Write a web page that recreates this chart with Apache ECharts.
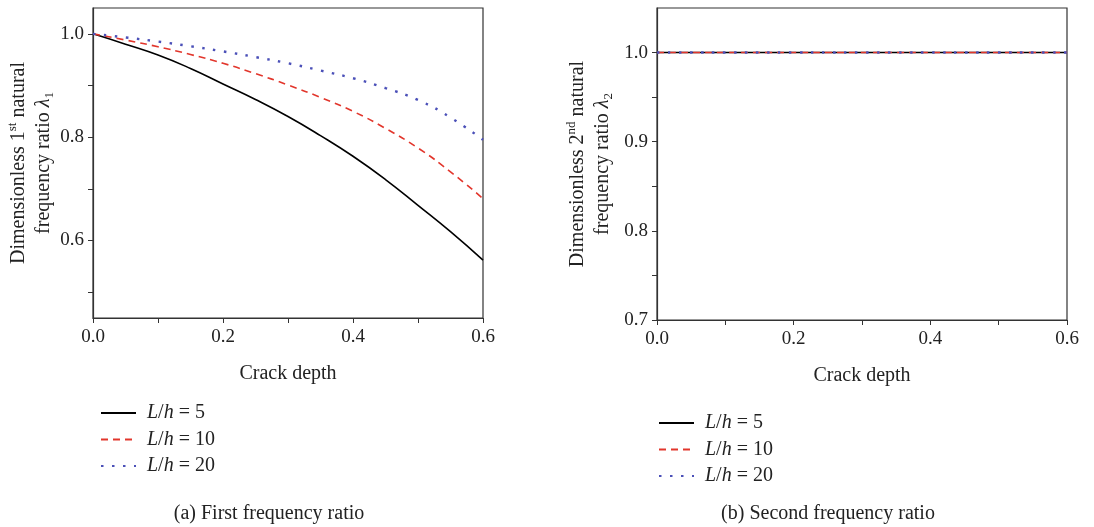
<!DOCTYPE html>
<html><head><meta charset="utf-8">
<script src="https://cdn.jsdelivr.net/npm/echarts@6/dist/echarts.min.js"></script>
<style>html,body{margin:0;padding:0;background:#fff}#c{width:1094px;height:527px}</style>
</head><body><div id="c"></div>
<script>
const crackDepth = [0, 0.05, 0.1, 0.15, 0.2, 0.25, 0.3, 0.35, 0.4, 0.45, 0.5, 0.55, 0.6];
const first_Lh5  = [1.0, 0.980, 0.959, 0.933, 0.903, 0.873, 0.840, 0.803, 0.763, 0.718, 0.668, 0.617, 0.562];
const first_Lh10 = [1.0, 0.988, 0.975, 0.960, 0.943, 0.923, 0.901, 0.877, 0.850, 0.817, 0.779, 0.733, 0.681];
const first_Lh20 = [1.0, 0.993, 0.985, 0.976, 0.966, 0.955, 0.943, 0.929, 0.914, 0.895, 0.872, 0.838, 0.795];
const second_Lh5  = [1.0, 1.0, 1.0, 1.0, 1.0, 1.0, 1.0, 1.0, 1.0, 1.0, 1.0, 1.0, 1.0];
const second_Lh10 = [1.0, 1.0, 1.0, 1.0, 1.0, 1.0, 1.0, 1.0, 1.0, 1.0, 1.0, 1.0, 1.0];
const second_Lh20 = [1.0, 1.0, 1.0, 1.0, 1.0, 1.0, 1.0, 1.0, 1.0, 1.0, 1.0, 1.0, 1.0];
const seriesNames = ['L/h = 5', 'L/h = 10', 'L/h = 20'];
const xTicks = [0, 0.1, 0.2, 0.3, 0.4, 0.5, 0.6];
const xLabels = [0, 0.2, 0.4, 0.6];
const y1Ticks = [0.5, 0.6, 0.7, 0.8, 0.9, 1.0];
const y1Labels = [0.6, 0.8, 1.0];
const y2Ticks = [0.7, 0.75, 0.8, 0.85, 0.9, 0.95, 1.0];
const y2Labels = [0.7, 0.8, 0.9, 1.0];

const FONT = '"Liberation Serif", "DejaVu Serif", serif';
const AX = '#333';
const TXT = '#222';
const FS = 19;
const colors = ['#000000', '#e2362c', '#4b50b8'];
const types = ['solid', [7, 5], [2.5, 8.5]];

function pairs(xs, ys){ return xs.map((x,i)=>[x, ys[i]]); }

function xAxis(gi){
  return {
    type:'value', gridIndex:gi, min:0, max:0.6,
    name:'Crack depth', nameLocation:'middle', nameGap:46,
    nameTextStyle:{fontFamily:FONT, fontSize:20, color:TXT},
    axisLine:{show:true, lineStyle:{color:AX, width:1.2}},
    axisTick:{show:true, length:5, lineStyle:{color:AX}, customValues:xTicks},
    axisLabel:{fontFamily:FONT, fontSize:FS, color:TXT, margin:10, customValues:xLabels,
      formatter:v=>Number(v).toFixed(1)},
    splitLine:{show:false}
  };
}
function yAxis(gi, min, max, ticks, labels, nameRich, gap){
  return {
    type:'value', gridIndex:gi, min:min, max:max,
    name:nameRich, nameLocation:'middle', nameGap:gap,
    nameTextStyle:{fontFamily:FONT, fontSize:20, color:TXT, lineHeight:25, align:'center',
      rich:{
        n:{fontFamily:FONT, fontSize:20, color:TXT},
        sup:{fontFamily:FONT, fontSize:13, color:TXT, verticalAlign:'top', lineHeight:25},
        sub:{fontFamily:FONT, fontSize:13, color:TXT, verticalAlign:'bottom', lineHeight:20},
        it:{fontFamily:FONT, fontSize:20, color:TXT, fontStyle:'italic'}
      }},
    axisLine:{show:true, lineStyle:{color:AX, width:1.2}},
    axisTick:{show:true, length:5, lineStyle:{color:AX}, customValues:ticks},
    axisLabel:{fontFamily:FONT, fontSize:FS, color:TXT, margin:9, customValues:labels,
      formatter:v=>Number(v).toFixed(1)},
    splitLine:{show:false}
  };
}
function mkSeries(gi, arrs){
  return arrs.map((arr,i)=>({
    name:seriesNames[i], type:'line', xAxisIndex:gi, yAxisIndex:gi,
    data:pairs(crackDepth, arr), symbol:'none', showSymbol:false, smooth:true, silent:true,
    lineStyle:{color:colors[i], width:i===2?2.4:1.6, type:types[i]},
    itemStyle:{color:colors[i]}
  }));
}
const legendRich = {i:{fontFamily:FONT, fontSize:20, color:TXT, fontStyle:'italic', lineHeight:20},
                    n:{fontFamily:FONT, fontSize:20, color:TXT, lineHeight:20}};
function legendFmt(name){
  const num = name.split('= ')[1];
  return '{i|L}{n|/}{i|h}{n| = ' + num + '}';
}
function legend(left, top){
  return {left:left, top:top, orient:'vertical', padding:0, itemWidth:35, itemHeight:14, itemGap:6.5,
    data:seriesNames, formatter:legendFmt, selectedMode:false,
    itemStyle:{opacity:0},
    textStyle:{rich:legendRich, lineHeight:20, padding:[0,0,0,6]}};
}
const chart = echarts.init(document.getElementById('c'), null, {renderer:'canvas'});
chart.setOption({
  animation:false,
  backgroundColor:'#fff',
  grid:[
    {left:93, right:611, top:8, bottom:209, show:true, borderColor:AX, borderWidth:1.2},
    {left:657, right:27, top:8, bottom:207, show:true, borderColor:AX, borderWidth:1.2}
  ],
  xAxis:[xAxis(0), xAxis(1)],
  yAxis:[
    yAxis(0, 0.45, 1.05, y1Ticks, y1Labels, '{n|Dimensionless 1}{sup|st}{n| natural}\n{n|frequency ratio }{it|λ}{sub|1}', 37),
    yAxis(1, 0.7, 1.05, y2Ticks, y2Labels, '{n|Dimensionless 2}{sup|nd}{n| natural}\n{n|frequency ratio }{it|λ}{sub|2}', 42)
  ],
  legend:[legend(100, 403), legend(658, 413)],
  title:[
    {text:'(a) First frequency ratio', left:264, top:499, textAlign:'center',
     textStyle:{fontFamily:FONT, fontSize:20, fontWeight:'normal', color:TXT}},
    {text:'(b) Second frequency ratio', left:823, top:499, textAlign:'center',
     textStyle:{fontFamily:FONT, fontSize:20, fontWeight:'normal', color:TXT}}
  ],
  series:[].concat(mkSeries(0,[first_Lh5, first_Lh10, first_Lh20]), mkSeries(1,[second_Lh5, second_Lh10, second_Lh20]))
});
</script></body></html>
